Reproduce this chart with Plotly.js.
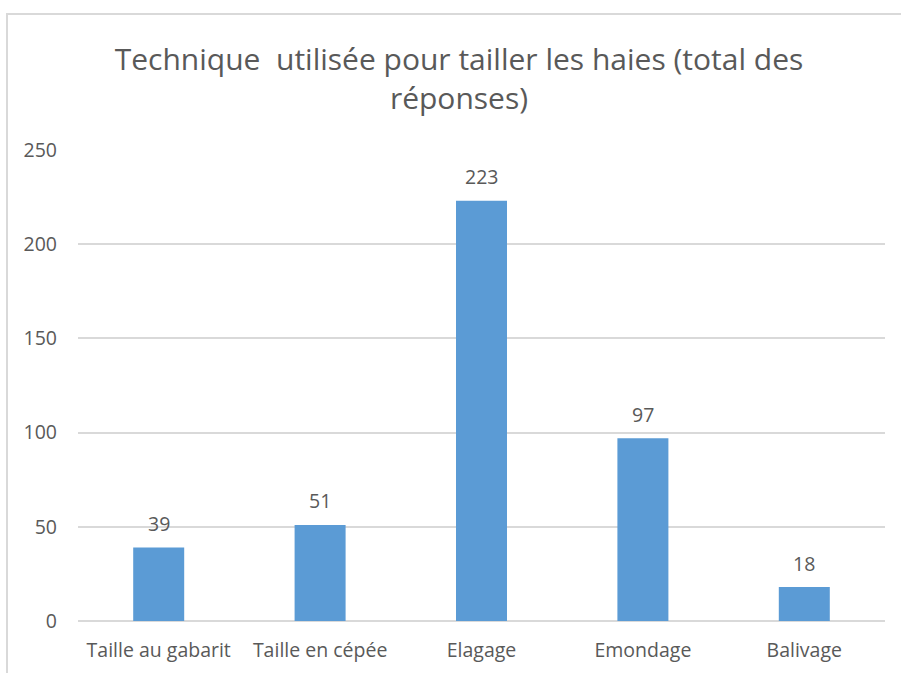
<!DOCTYPE html>
<html><head><meta charset="utf-8">
<script src="https://cdn.plot.ly/plotly-3.0.1.min.js"></script>
<style>
body{margin:0;padding:0;background:#fff;}
#wrap{position:relative;width:901px;height:673px;}
#chart{position:absolute;left:0;top:0;width:901px;height:673px;}
#frame{position:absolute;left:6px;top:13px;width:895px;height:660px;border-left:2px solid #D9D9D9;border-top:2px solid #D9D9D9;pointer-events:none;}
</style></head>
<body>
<div id="wrap"><div id="chart"></div><div id="frame"></div></div>
<script>
const categories = ["Taille au gabarit", "Taille en cépée", "Elagage", "Emondage", "Balivage"];
const values = [39, 51, 223, 97, 18];
const yTicks = [0, 50, 100, 150, 200, 250];
const titleText = "Technique  utilisée pour tailler les haies (total des<br>réponses)";

const font = "Open Sans, Noto Sans, sans-serif";
const grey = "#595959";

const trace = {
  type: "bar",
  x: categories,
  y: values,
  marker: {color: "#5B9BD5"},
  hoverinfo: "x+y"
};

const annotations = categories.map((c, i) => ({
  x: c, y: values[i], xref: "x", yref: "y",
  text: String(values[i]), showarrow: false,
  yanchor: "middle", yshift: 24,
  font: {family: font, size: 19.5, color: grey}
}));

const layout = {
  width: 901, height: 673,
  margin: {l: 78, r: 16, t: 150, b: 52, pad: 0},
  paper_bgcolor: "#fff", plot_bgcolor: "#fff",
  bargap: 0.684,
  showlegend: false,
  title: {
    text: titleText,
    font: {family: font, size: 30, color: grey},
    x: 459/901, xanchor: "center", xref: "container",
    y: 1 - 70/673, yanchor: "middle", yref: "container"
  },
  xaxis: {
    type: "category",
    showgrid: false, showline: false, zeroline: false,
    ticks: "",
    tickfont: {family: font, size: 19.5, color: grey},
    ticklabelstandoff: 15
  },
  yaxis: {
    range: [0, 250],
    tickvals: yTicks,
    ticktext: yTicks.map(String),
    showgrid: true, gridcolor: "#D9D9D9", gridwidth: 2,
    zeroline: true, zerolinecolor: "#D9D9D9", zerolinewidth: 2,
    showline: false, ticks: "",
    tickfont: {family: font, size: 19.5, color: grey},
    ticklabelstandoff: 20
  },
  annotations: annotations
};

Plotly.newPlot("chart", [trace], layout, {displayModeBar: false, staticPlot: true});
</script>
</body></html>
